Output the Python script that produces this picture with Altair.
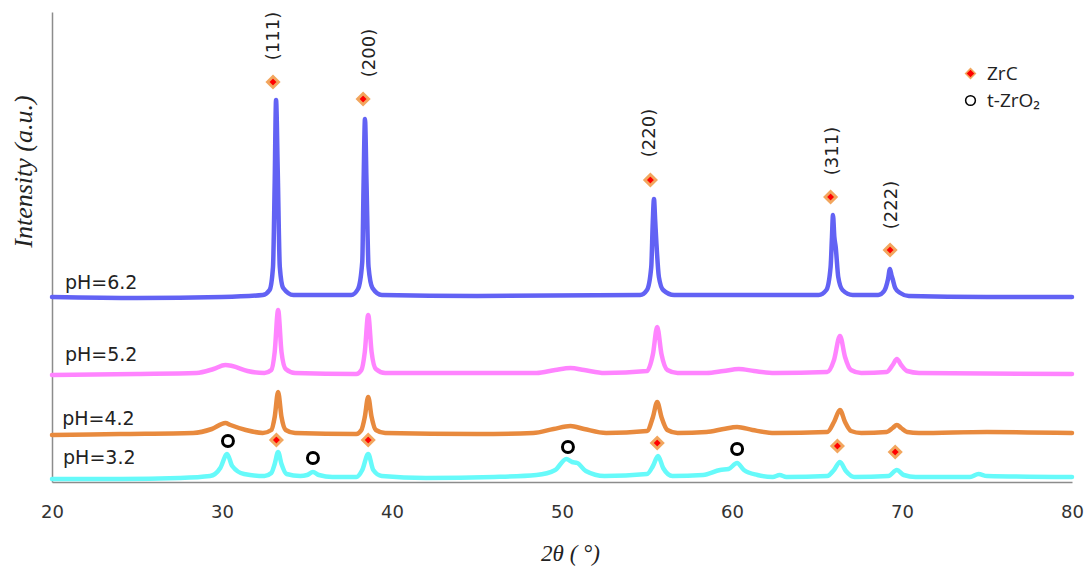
import altair as alt
import pandas as pd

# ---- data (x = 2theta in degrees, y = offset intensity, a.u.) ----
ph62 = [(20,185),(25,184),(30,185),(32.4,187),(32.8,192),(33.0,215),(33.1,300),(33.18,382),(33.28,310),
        (33.4,215),(33.6,194),(34.2,187),(37.6,187),(38.0,193),(38.25,220),(38.33,300),(38.41,363),
        (38.5,300),(38.62,215),(38.85,194),(39.4,187),(45,186),(54.6,187),(55.0,192),(55.25,215),
        (55.34,260),(55.41,283),(55.48,262),(55.55,240),(55.7,205),(55.95,192),(56.6,187),(65.1,187),
        (65.55,192),(65.8,215),(65.88,245),(65.94,267),(66.02,245),(66.1,235),(66.25,205),(66.5,192),
        (67.1,187),(68.6,187),(68.95,191),(69.18,203),(69.29,213),(69.38,207),(69.45,203),(69.6,194),
        (69.9,189),(70.4,186),(75,185),(80,185)]
ph52 = [(20,107),(25,108),(28.5,109),(29.5,113),(30.2,117),(30.6,116),(31.5,111),(32.5,109),(32.9,112),
        (33.1,130),(33.3,172),(33.5,130),(33.75,113),(34.3,109),(37.9,108),(38.2,112),(38.4,130),
        (38.6,167),(38.8,130),(39.05,113),(39.6,109),(45,109),(48.5,109),(49.6,112),(50.5,114),
        (51.3,112),(52.5,109),(55.0,111),(55.35,128),(55.6,155),(55.85,128),(56.2,112),(56.8,109),
        (58.5,109),(59.5,111),(60.4,113),(61.3,111),(62.5,109),(65.6,110),(66.0,122),(66.35,146),
        (66.65,125),(67.0,112),(67.6,109),(69.1,110),(69.45,117),(69.7,123),(69.95,117),(70.3,111),
        (71,109),(80,108)]
ph42 = [(20,47),(24,48),(28.3,49),(29.4,53),(30.2,59),(30.5,57),(31.4,52),(32.4,49),(32.9,52),(33.1,65),
        (33.3,90),(33.5,65),(33.75,52),(34.3,49),(37.9,48),(38.2,52),(38.4,65),(38.6,85),(38.8,65),
        (39.05,52),(39.6,49),(45,48),(48.3,49),(49.5,53),(50.5,56),(51.3,53),(52.6,49),(55.0,51),
        (55.35,65),(55.6,80),(55.85,65),(56.2,52),(56.8,49),(58.5,50),(59.5,53),(60.3,55),(61.2,52),
        (62.5,49),(65.6,50),(66.0,60),(66.35,72),(66.65,60),(67.0,51),(67.6,49),(69.1,50),(69.45,54),
        (69.7,57),(69.95,54),(70.3,50),(71,49),(75,50),(80,49)]
ph32 = [(20,3),(24,3),(27.5,4),(29.3,6),(29.9,14),(30.3,28),(30.6,16),(31.3,8),(32.5,6),(32.9,9),(33.1,18),
        (33.3,30),(33.5,18),(33.8,8),(34.6,6),(35.0,7),(35.35,10),(35.7,7),(36.5,5),(37.9,5),(38.25,12),
        (38.6,28),(38.9,12),(39.4,6),(42,4),(46,5),(48.5,7),(49.6,12),(50.25,23),(50.6,20),(50.9,19),
        (51.4,11),(52.5,6),(55.0,8),(55.35,16),(55.65,26),(55.95,14),(56.5,6),(58.3,7),(59.3,12),
        (59.8,13),(60.3,19),(60.7,12),(61.5,7),(62.4,5),(62.8,7),(63.2,5),(65.6,6),(66.0,12),(66.35,20),
        (66.7,11),(67.2,5),(69.2,6),(69.7,12),(70.1,7),(70.8,5),(74.0,5),(74.5,8),(75.0,6),(80,5)]

series_names = ["pH=6.2", "pH=5.2", "pH=4.2", "pH=3.2"]
series_colors = ["#6262F4", "#FF84FF", "#E88A3E", "#66FAFA"]
series_pts = [ph62, ph52, ph42, ph32]

# phase markers
zrc_x = [33.0, 38.3, 55.2, 65.8, 69.3, 33.2, 38.6, 55.6, 66.2, 69.6]
zrc_y = [400, 383, 302, 285, 232, 42, 42, 39, 36, 30]
zro2_x = [30.35, 35.35, 50.35, 60.3]
zro2_y = [41, 24, 35, 33]

# Miller indices
hkl_text = ["(111)", "(200)", "(220)", "(311)", "(222)"]
hkl_x = [33.06, 38.7, 55.18, 65.94, 69.4]
hkl_y = [446, 429, 349, 331, 277]

# series labels
lab_x = [20.76, 20.76, 20.6, 20.65]
lab_y = [199, 127, 63, 24]

ticks_x = [20, 30, 40, 50, 60, 70, 80]

rows = []
for name, pts in zip(series_names, series_pts):
    for i, (x, y) in enumerate(pts):
        rows.append({"series": name, "x": x, "y": y, "i": i})
curves = pd.DataFrame(rows)

markers = pd.DataFrame(
    [{"x": x, "y": y, "phase": "ZrC"} for x, y in zip(zrc_x, zrc_y)]
    + [{"x": x, "y": y, "phase": "t-ZrO₂"} for x, y in zip(zro2_x, zro2_y)]
)
hkl = pd.DataFrame({"t": hkl_text, "x": hkl_x, "y": hkl_y})
labels = pd.DataFrame({"t": series_names, "x": lab_x, "y": lab_y})

xs = alt.Scale(domain=[20, 80], nice=False, zero=False)
ys = alt.Scale(domain=[0, 470], nice=False, zero=False)

xenc = alt.X("x:Q", scale=xs, axis=alt.Axis(
    values=ticks_x, grid=False, ticks=False, tickSize=0, labelPadding=21, labelFlush=False,
    labelFont="DejaVu Sans", labelFontSize=18, labelColor="#333333",
    domainColor="#8c8c8c", domainWidth=1.5,
    title="2θ ( °)", titleFont="Liberation Serif", titleFontStyle="italic",
    titleFontWeight="normal", titleFontSize=23, titleColor="#222222",
    titleX=518, titleY=71, titleBaseline="middle", titleAlign="center"))
yenc = alt.Y("y:Q", scale=ys, axis=alt.Axis(
    labels=False, ticks=False, grid=False, domainColor="#8c8c8c", domainWidth=1.5,
    title="Intensity (a.u.)", titleFont="Liberation Serif", titleFontStyle="italic",
    titleFontWeight="normal", titleFontSize=26, titleColor="#222222",
    titleAngle=270, titleX=-29, titleY=159, titleAlign="center", titleBaseline="middle"))

lines = alt.Chart(curves).mark_line(strokeWidth=4.5, strokeJoin="round", strokeCap="round",
                                    interpolate="monotone").encode(
    x=xenc, y=yenc,
    color=alt.Color("series:N", scale=alt.Scale(domain=series_names, range=series_colors), legend=None),
    detail="series:N",
    order="i:Q",
)

pts = alt.Chart(markers).mark_point(size=120, strokeWidth=3, opacity=1, fillOpacity=1).encode(
    x=alt.X("x:Q", scale=xs),
    y=alt.Y("y:Q", scale=ys),
    shape=alt.Shape("phase:N", scale=alt.Scale(domain=["ZrC", "t-ZrO₂"], range=["diamond", "circle"]),
                    legend=alt.Legend(title=None, orient="none", legendX=909, legendY=52,
                                      labelFont="Open Sans", labelFontSize=19, labelColor="#222222",
                                      symbolSize=95, symbolStrokeWidth=1.5, rowPadding=7, labelOffset=7)),
    fill=alt.Fill("phase:N", scale=alt.Scale(domain=["ZrC", "t-ZrO₂"], range=["#ff0000", "transparent"])),
    stroke=alt.Stroke("phase:N", scale=alt.Scale(domain=["ZrC", "t-ZrO₂"], range=["#f2a65e", "#000000"])),
)

hkl_text_layer = alt.Chart(hkl).mark_text(angle=270, fontSize=18, font="DejaVu Sans", color="#222222",
                                          align="center", baseline="middle").encode(
    x=alt.X("x:Q", scale=xs), y=alt.Y("y:Q", scale=ys), text="t:N")

lab_layer = alt.Chart(labels).mark_text(fontSize=19, font="DejaVu Sans", color="#222222",
                                        align="left", baseline="middle").encode(
    x=alt.X("x:Q", scale=xs), y=alt.Y("y:Q", scale=ys), text="t:N")

chart = alt.layer(lines, pts, hkl_text_layer, lab_layer).properties(
    width=1020, height=470,
    autosize=alt.AutoSizeParams(type="none"),
    padding={"left": 52, "top": 12, "right": 15, "bottom": 84},
    background="white",
).configure_view(stroke=None).resolve_scale(color="independent")

chart.save("out.html", embed_options={"renderer": "svg", "actions": False})
